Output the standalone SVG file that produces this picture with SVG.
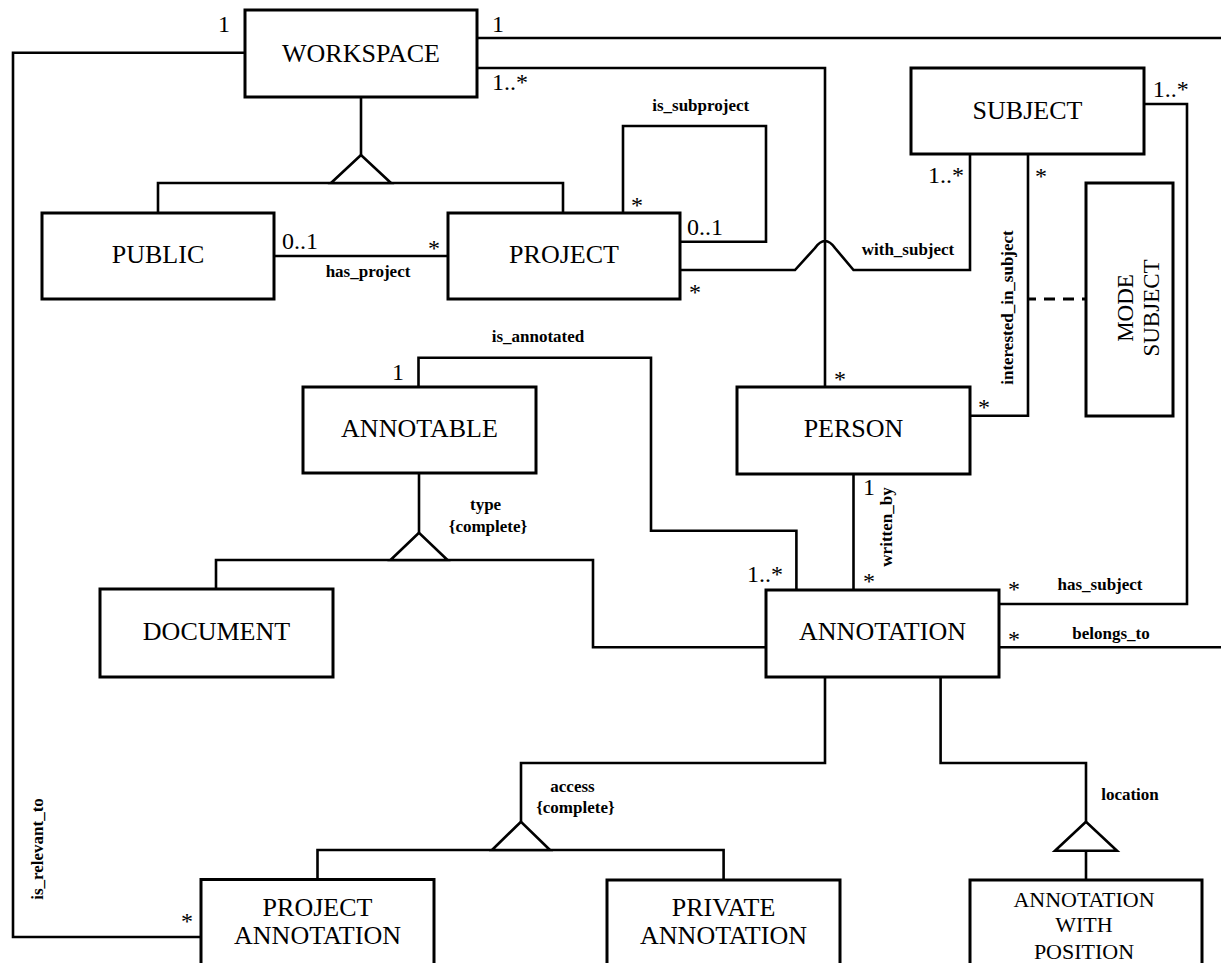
<svg xmlns="http://www.w3.org/2000/svg" width="1221" height="963" viewBox="0 0 1221 963">
  <style>
    .box { fill: #fff; stroke: #000; stroke-width: 3; }
    .ln { fill: none; stroke: #000; stroke-width: 2.6; stroke-linejoin: miter; }
    .tri { fill: #fff; stroke: #000; stroke-width: 2.6; stroke-linejoin: miter; }
    .dash { fill: none; stroke: #000; stroke-width: 3; stroke-dasharray: 11 8; stroke-dashoffset: 3; }
    .name { font-family: "Liberation Serif", "Times New Roman", serif; font-size: 26px; text-anchor: middle; fill: #000; }
    .name-sm { font-family: "Liberation Serif", "Times New Roman", serif; font-size: 23px; text-anchor: middle; fill: #000; }
    .name-xs { font-family: "Liberation Serif", "Times New Roman", serif; font-size: 22px; text-anchor: middle; fill: #000; }
    .mult { font-family: "Liberation Serif", "Times New Roman", serif; font-size: 24px; fill: #000; }
    .role { font-family: "Liberation Serif", "Times New Roman", serif; font-size: 17px; font-weight: bold; text-anchor: middle; fill: #000; }
  </style>

  <rect width="1221" height="963" fill="#fff"/>

  <!-- connectors -->
  <g id="connectors">
    <!-- WORKSPACE 1 : * PROJECT ANNOTATION (is_relevant_to) -->
    <path class="ln" d="M245,52.7 H13 V937 H201"/>
    <!-- WORKSPACE 1 : * ANNOTATION (belongs_to), runs off the right edge -->
    <path class="ln" d="M477,38 H1221"/>
    <path class="ln" d="M999,647.3 H1221"/>
    <!-- WORKSPACE 1..* : * PERSON -->
    <path class="ln" d="M477,68 H825 V387"/>
    <!-- WORKSPACE generalization -->
    <path class="ln" d="M361,97 V155"/>
    <path class="ln" d="M158,213 V183 H563 V213"/>
    <polygon class="tri" points="361,155 331,183 391,183"/>
    <!-- has_project -->
    <path class="ln" d="M274,256 H448"/>
    <!-- is_subproject loop -->
    <path class="ln" d="M680,241.7 H766 V126 H623 V213"/>
    <!-- with_subject with a line jump over the PERSON connector -->
    <path class="ln" d="M680,270 H795 L815,248 Q825,234 835,248 L853.5,270 H970 V154"/>
    <!-- interested_in_subject -->
    <path class="ln" d="M1028,154 V415.7 H970"/>
    <path class="dash" d="M1028,299 H1086"/>
    <!-- has_subject -->
    <path class="ln" d="M999,604 H1187 V104 H1144"/>
    <!-- written_by -->
    <path class="ln" d="M853.5,474 V590"/>
    <!-- is_annotated -->
    <path class="ln" d="M418.5,387 V357.7 H651 V530.7 H796.4 V590"/>
    <!-- ANNOTABLE generalization (type {complete}) -->
    <path class="ln" d="M419,473 V532.7"/>
    <path class="ln" d="M216,589 V560 H593 V647.3 H766"/>
    <polygon class="tri" points="419,532.7 390.5,560 447.5,560"/>
    <!-- ANNOTATION generalization (access {complete}) -->
    <path class="ln" d="M825,677 V763 H521 V821.7"/>
    <path class="ln" d="M317.5,880 V850 H723.6 V880"/>
    <polygon class="tri" points="521,821.7 492,850 550,850"/>
    <!-- ANNOTATION generalization (location) -->
    <path class="ln" d="M940.6,677 V763 H1086 V821.7"/>
    <path class="ln" d="M1086,850.7 V880"/>
    <polygon class="tri" points="1086,821.7 1055,850.7 1117,850.7"/>
  </g>

  <!-- association names -->
  <g id="labels">
    <text class="role" x="700.7" y="111">is_subproject</text>
    <text class="role" x="368" y="277">has_project</text>
    <text class="role" x="908" y="255">with_subject</text>
    <text class="role" x="538" y="341.7">is_annotated</text>
    <text class="role" x="485.6" y="510">type</text>
    <text class="role" x="488" y="532">{complete}</text>
    <text class="role" x="1100" y="590">has_subject</text>
    <text class="role" x="1111" y="639.3">belongs_to</text>
    <text class="role" x="572.5" y="792">access</text>
    <text class="role" x="575.4" y="813">{complete}</text>
    <text class="role" x="1130" y="800">location</text>
    <text class="role" transform="translate(1012.5,307.5) rotate(-90)">interested_in_subject</text>
    <text class="role" transform="translate(892,527) rotate(-90)">written_by</text>
    <text class="role" transform="translate(43,849) rotate(-90)">is_relevant_to</text>
  </g>

  <!-- multiplicities -->
  <g id="multiplicities">
    <text class="mult" x="218" y="32">1</text>
    <text class="mult" x="492" y="32">1</text>
    <text class="mult" x="492" y="90">1..*</text>
    <text class="mult" x="282" y="249">0..1</text>
    <text class="mult" x="428" y="256">*</text>
    <text class="mult" x="631" y="213">*</text>
    <text class="mult" x="687" y="235">0..1</text>
    <text class="mult" x="689" y="300">*</text>
    <text class="mult" x="834" y="387">*</text>
    <text class="mult" x="978" y="415">*</text>
    <text class="mult" x="928" y="183">1..*</text>
    <text class="mult" x="1035" y="184">*</text>
    <text class="mult" x="1152.7" y="96.7">1..*</text>
    <text class="mult" x="392" y="380">1</text>
    <text class="mult" x="747" y="581.7">1..*</text>
    <text class="mult" x="863" y="495">1</text>
    <text class="mult" x="863" y="589">*</text>
    <text class="mult" x="1008" y="597">*</text>
    <text class="mult" x="1008" y="647">*</text>
    <text class="mult" x="181" y="929">*</text>
  </g>

  <!-- classes -->
  <g id="workspace">
    <rect class="box" x="245" y="10" width="232" height="87"/>
    <text class="name" x="361" y="62">WORKSPACE</text>
  </g>
  <g id="public">
    <rect class="box" x="42" y="213" width="232" height="86"/>
    <text class="name" x="158" y="263">PUBLIC</text>
  </g>
  <g id="project">
    <rect class="box" x="448" y="213" width="232" height="86"/>
    <text class="name" x="564" y="263">PROJECT</text>
  </g>
  <g id="subject">
    <rect class="box" x="911" y="68" width="233" height="86"/>
    <text class="name" x="1027.5" y="119">SUBJECT</text>
  </g>
  <g id="mode-subject">
    <rect class="box" x="1086" y="183" width="87" height="233"/>
    <text class="name-sm" transform="translate(1133,308) rotate(-90)">MODE</text>
    <text class="name-sm" transform="translate(1159,308) rotate(-90)">SUBJECT</text>
  </g>
  <g id="person">
    <rect class="box" x="737" y="387" width="233" height="87"/>
    <text class="name" x="853.5" y="437">PERSON</text>
  </g>
  <g id="annotable">
    <rect class="box" x="303" y="387" width="233" height="86"/>
    <text class="name" x="419.5" y="437">ANNOTABLE</text>
  </g>
  <g id="document">
    <rect class="box" x="100" y="589" width="233" height="88"/>
    <text class="name" x="216.5" y="640">DOCUMENT</text>
  </g>
  <g id="annotation">
    <rect class="box" x="766" y="590" width="233" height="87"/>
    <text class="name" x="882.5" y="640">ANNOTATION</text>
  </g>
  <g id="project-annotation">
    <rect class="box" x="201" y="879.5" width="233" height="95"/>
    <text class="name" x="317.5" y="916">PROJECT</text>
    <text class="name" x="317.5" y="944">ANNOTATION</text>
  </g>
  <g id="private-annotation">
    <rect class="box" x="607" y="880" width="233" height="95"/>
    <text class="name" x="723.5" y="916">PRIVATE</text>
    <text class="name" x="723.5" y="944">ANNOTATION</text>
  </g>
  <g id="annotation-with-position">
    <rect class="box" x="970" y="880" width="232" height="95"/>
    <text class="name-xs" x="1084" y="907">ANNOTATION</text>
    <text class="name-xs" x="1084" y="932">WITH</text>
    <text class="name-xs" x="1084" y="959">POSITION</text>
  </g>
</svg>
